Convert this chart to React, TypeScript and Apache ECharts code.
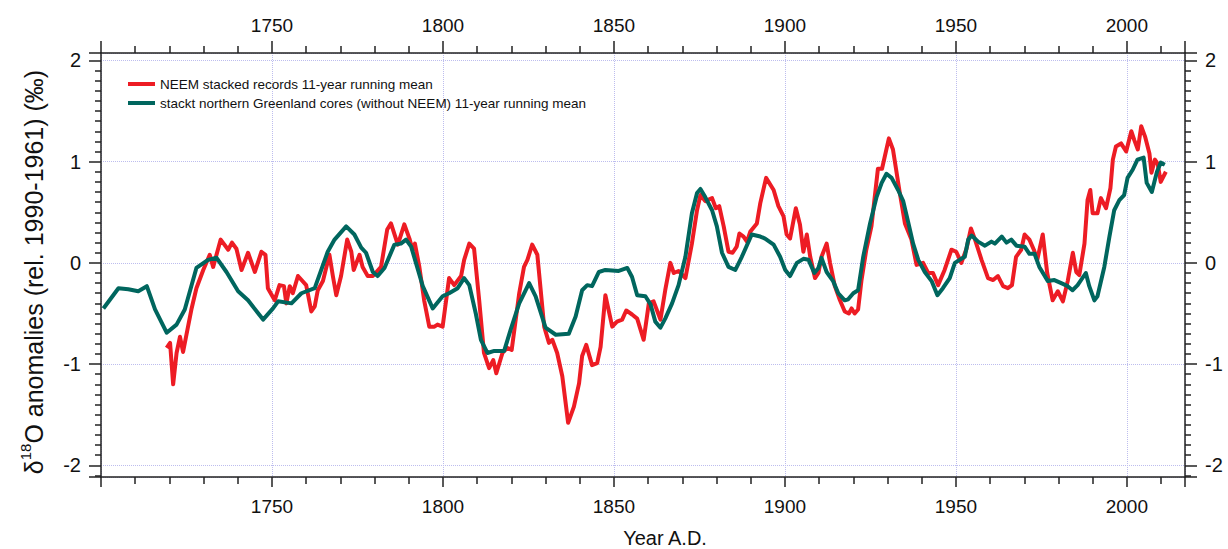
import React, { useEffect, useRef } from 'react';
import * as echarts from 'echarts';

const FONT = '"Liberation Sans", Arial, Helvetica, sans-serif';
const RED = '#ed1c24';
const TEAL = '#00665e';

// NEEM stacked records, 11-year running mean (‰)
const neemYears = [
  1719.2, 1720.2, 1721.1, 1722.1, 1723.1, 1724.0, 1726.5, 1727.9, 1729.9, 1731.8,
  1732.8, 1735.0, 1737.2, 1738.3, 1739.6, 1741.1, 1743.0, 1745.0, 1746.9, 1748.1,
  1748.8, 1750.8, 1752.2, 1753.5, 1754.2, 1755.2, 1756.1, 1757.6, 1760.0, 1761.5,
  1762.5, 1763.4, 1764.9, 1766.8, 1767.8, 1768.8, 1770.2, 1772.0, 1773.2, 1773.9,
  1775.6, 1776.5, 1778.0, 1779.5, 1781.9, 1783.7, 1784.8, 1786.8, 1788.7, 1790.2,
  1791.1, 1791.8, 1793.1, 1794.5, 1796.0, 1797.5, 1798.4, 1799.9, 1801.8, 1803.3,
  1805.3, 1806.2, 1807.7, 1809.1, 1810.6, 1812.0, 1813.5, 1814.7, 1815.6, 1817.4,
  1818.8, 1820.1, 1822.3, 1823.7, 1824.7, 1826.1, 1827.6, 1829.6, 1831.0, 1832.0,
  1833.4, 1834.9, 1836.6, 1838.3, 1839.8, 1840.7, 1841.9, 1843.6, 1845.1, 1846.1,
  1847.5, 1849.5, 1850.9, 1852.4, 1853.6, 1855.3, 1856.8, 1858.7, 1860.2, 1861.6,
  1863.6, 1865.0, 1866.5, 1867.5, 1868.9, 1870.9, 1872.8, 1874.3, 1875.3, 1876.7,
  1878.7, 1879.8, 1880.8, 1882.1, 1883.5, 1884.7, 1885.9, 1886.7, 1887.9, 1888.9,
  1889.9, 1891.8, 1892.8, 1894.5, 1896.7, 1898.1, 1899.6, 1900.5, 1901.5, 1903.2,
  1904.4, 1905.4, 1906.4, 1907.4, 1908.8, 1909.8, 1910.7, 1912.2, 1913.2, 1914.6,
  1916.1, 1917.5, 1918.7, 1919.5, 1920.4, 1921.4, 1922.4, 1923.8, 1925.3, 1927.2,
  1928.4, 1930.4, 1931.6, 1933.6, 1935.1, 1937.0, 1938.5, 1940.4, 1941.9, 1943.3,
  1944.8, 1946.7, 1948.7, 1950.1, 1951.6, 1953.1, 1954.4, 1955.5, 1957.5, 1959.4,
  1960.9, 1962.3, 1963.8, 1965.2, 1966.4, 1967.6, 1969.1, 1970.1, 1971.5, 1972.8,
  1973.8, 1975.4, 1976.7, 1978.3, 1979.8, 1981.3, 1982.7, 1984.2, 1985.2, 1986.1,
  1987.6, 1988.5, 1989.3, 1990.0, 1991.4, 1992.4, 1993.9, 1995.2, 1995.9, 1996.8,
  1998.3, 1999.8, 2001.3, 2002.2, 2003.2, 2004.2, 2005.3, 2006.6, 2007.2, 2008.2,
  2009.0, 2009.9, 2011.4,
];
const neemValues = [
  -0.84, -0.79, -1.2, -0.89, -0.73, -0.88, -0.45, -0.25, -0.07, 0.08,
  -0.04, 0.23, 0.13, 0.2, 0.14, -0.07, 0.1, -0.09, 0.11, 0.08,
  -0.25, -0.37, -0.22, -0.23, -0.4, -0.23, -0.3, -0.13, -0.22, -0.48,
  -0.43, -0.27, -0.18, 0.08, -0.13, -0.32, -0.13, 0.23, 0.11, -0.07,
  0.08, -0.04, -0.13, -0.13, -0.04, 0.33, 0.39, 0.18, 0.38, 0.24,
  0.13, 0.19, -0.04, -0.37, -0.63, -0.63, -0.61, -0.63, -0.15, -0.22,
  -0.13, 0.03, 0.19, 0.14, -0.37, -0.89, -1.04, -0.96, -1.09, -0.89,
  -0.84, -0.86, -0.3, -0.04, 0.03, 0.18, 0.08, -0.63, -0.79, -0.76,
  -0.89, -1.12, -1.58, -1.42, -1.19, -0.92, -0.81, -1.01, -0.99, -0.83,
  -0.32, -0.63, -0.58, -0.56, -0.47, -0.51, -0.55, -0.76, -0.4, -0.38,
  -0.56, -0.27, 0.0, -0.1, -0.08, -0.15, 0.19, 0.52, 0.67, 0.61,
  0.64, 0.54, 0.56, 0.36, 0.11, 0.1, 0.16, 0.29, 0.26, 0.21,
  0.31, 0.39, 0.59, 0.84, 0.72, 0.56, 0.46, 0.28, 0.24, 0.54,
  0.38, 0.11, 0.28, 0.06, -0.15, -0.1, 0.06, 0.19, 0.0, -0.23,
  -0.37, -0.48, -0.5, -0.45, -0.5, -0.46, -0.17, 0.13, 0.36, 0.93,
  0.93, 1.23, 1.12, 0.69, 0.39, 0.23, -0.02, 0.0, -0.1, -0.1,
  -0.22, -0.07, 0.13, 0.11, 0.0, 0.14, 0.34, 0.24, 0.03, -0.15,
  -0.17, -0.13, -0.23, -0.25, -0.22, 0.06, 0.13, 0.28, 0.23, 0.13,
  0.03, 0.28, -0.1, -0.37, -0.28, -0.38, -0.18, 0.1, -0.09, -0.12,
  0.19, 0.62, 0.72, 0.49, 0.49, 0.64, 0.54, 0.74, 1.02, 1.15,
  1.18, 1.1, 1.3, 1.21, 1.12, 1.35, 1.25, 1.08, 0.89, 1.02,
  0.98, 0.8, 0.9,
];

// Stacked northern Greenland cores (without NEEM), 11-year running mean (‰)
const greenlandYears = [
  1700.7, 1705.1, 1708.0, 1710.9, 1713.4, 1715.8, 1719.2, 1722.1, 1724.5, 1727.9,
  1731.3, 1733.8, 1736.7, 1740.1, 1743.0, 1747.4, 1750.3, 1751.8, 1755.7, 1758.6,
  1762.5, 1766.3, 1768.3, 1771.7, 1774.1, 1776.1, 1777.5, 1779.5, 1780.9, 1782.9,
  1785.8, 1787.7, 1789.2, 1790.7, 1794.1, 1797.0, 1799.9, 1801.8, 1804.3, 1806.2,
  1807.7, 1809.6, 1811.1, 1813.0, 1815.0, 1817.9, 1819.8, 1822.3, 1825.2, 1827.1,
  1830.0, 1833.0, 1836.8, 1838.8, 1840.7, 1842.2, 1843.6, 1845.6, 1847.5, 1851.4,
  1853.9, 1855.3, 1856.8, 1859.2, 1860.7, 1862.1, 1863.6, 1865.0, 1867.0, 1868.9,
  1870.9, 1872.8, 1874.3, 1875.3, 1876.7, 1878.7, 1880.1, 1881.6, 1883.5, 1885.5,
  1887.4, 1890.3, 1892.8, 1894.2, 1896.7, 1898.6, 1900.1, 1901.5, 1903.5, 1905.4,
  1906.9, 1908.6, 1909.8, 1910.7, 1912.2, 1914.1, 1915.6, 1917.5, 1918.5, 1920.0,
  1921.4, 1922.9, 1924.9, 1926.8, 1928.3, 1929.7, 1931.2, 1933.1, 1934.6, 1936.0,
  1937.5, 1939.0, 1940.9, 1942.9, 1944.6, 1946.2, 1948.2, 1949.7, 1951.1, 1952.6,
  1953.6, 1954.6, 1956.5, 1958.5, 1960.4, 1961.4, 1963.4, 1964.8, 1966.2, 1967.7,
  1970.1, 1971.5, 1973.0, 1974.4, 1976.9, 1978.8, 1980.8, 1982.7, 1984.1, 1985.6,
  1988.0, 1989.0, 1990.5, 1991.4, 1993.4, 1994.9, 1996.3, 1997.8, 1999.2, 2000.2,
  2001.7, 2003.1, 2004.9, 2005.8, 2007.3, 2008.8, 2009.9, 2011.1,
];
const greenlandValues = [
  -0.45, -0.25, -0.26, -0.28, -0.23, -0.46, -0.69, -0.61, -0.46, -0.05,
  0.03, 0.05, -0.09, -0.28, -0.37, -0.56, -0.45, -0.38, -0.4, -0.3,
  -0.25, 0.11, 0.23, 0.36, 0.28, 0.15, 0.1, -0.09, -0.13, -0.05,
  0.18, 0.19, 0.23, 0.16, -0.23, -0.45, -0.33, -0.3, -0.25, -0.15,
  -0.22, -0.5, -0.76, -0.89, -0.87, -0.87, -0.66, -0.4, -0.2, -0.33,
  -0.64, -0.71, -0.7, -0.53, -0.27, -0.22, -0.23, -0.09, -0.07, -0.08,
  -0.05, -0.14, -0.32, -0.33, -0.41, -0.58, -0.64, -0.55, -0.4, -0.22,
  0.06, 0.49, 0.69, 0.73, 0.65, 0.52, 0.36, 0.1, -0.04, -0.07,
  0.06, 0.28, 0.26, 0.24, 0.18, 0.06, -0.07, -0.13, 0.0, 0.04,
  0.03, -0.1, -0.05, 0.05, -0.09, -0.18, -0.3, -0.37, -0.36, -0.3,
  -0.27, 0.06, 0.39, 0.65, 0.79, 0.88, 0.84, 0.72, 0.61, 0.41,
  0.19, 0.03, -0.09, -0.18, -0.32, -0.25, -0.15, 0.0, 0.03, 0.06,
  0.23, 0.27, 0.21, 0.17, 0.21, 0.19, 0.26, 0.2, 0.23, 0.17,
  0.16, 0.09, 0.09, -0.04, -0.18, -0.17, -0.2, -0.23, -0.27, -0.22,
  -0.1, -0.23, -0.37, -0.33, -0.04, 0.26, 0.52, 0.62, 0.67, 0.84,
  0.92, 1.02, 1.04, 0.79, 0.7, 0.9, 0.99, 0.97,
];

const seriesNames = [
  'NEEM stacked records 11-year running mean',
  'stackt northern Greenland cores (without NEEM) 11-year running mean',
];

const xMin = 1700;
const xMax = 2017;
const yMin = -2.115;
const yMax = 2.073;

const zip = (xs: number[], ys: number[]) => xs.map((x, i) => [x, ys[i]]);

const axisColor = '#222';
const gridLine = { show: true, lineStyle: { color: '#bdbdee', type: 'dotted' as const, width: 1 } };

function xAxisDef(position: 'top' | 'bottom') {
  return {
    type: 'value' as const,
    position,
    min: xMin,
    max: xMax,
    interval: 50,
    axisLine: { show: true, onZero: false, lineStyle: { color: axisColor, width: 1.5 } },
    axisTick: { show: true, length: position === 'top' ? 12 : 10, lineStyle: { color: axisColor, width: 1.5 } },
    minorTick: { show: true, splitNumber: 5, length: 7, lineStyle: { color: axisColor, width: 1.5 } },
    axisLabel: {
      showMinLabel: false,
      showMaxLabel: false,
      fontSize: 19,
      fontFamily: FONT,
      color: '#111',
      margin: position === 'top' ? 18 : 20,
      formatter: (v: number) => String(Math.round(v)),
    },
    splitLine: position === 'bottom' ? gridLine : { show: false },
  };
}

function yAxisDef(position: 'left' | 'right') {
  return {
    type: 'value' as const,
    position,
    min: yMin,
    max: yMax,
    splitNumber: 5,
    axisLine: { show: true, onZero: false, lineStyle: { color: axisColor, width: 1.5 } },
    axisTick: { show: true, length: 12, lineStyle: { color: axisColor, width: 1.5 } },
    minorTick: { show: true, splitNumber: 10, length: 6, lineStyle: { color: axisColor, width: 1.5 } },
    axisLabel: {
      showMinLabel: false,
      showMaxLabel: false,
      fontSize: 20,
      fontFamily: FONT,
      color: '#111',
      margin: 20,
      formatter: (v: number) => String(Math.round(v)),
    },
    splitLine: position === 'left' ? gridLine : { show: false },
    ...(position === 'left'
      ? {
          name: '{t|δ}{sup|18}{e|O anomalies (rel. 1990-1961) (‰)}',
          nameLocation: 'middle' as const,
          nameGap: 52,
          nameTextStyle: {
            color: '#111',
            fontFamily: FONT,
            fontSize: 25,
            rich: {
              t: { fontSize: 25, fontFamily: FONT, color: '#111' },
              sup: { fontSize: 15, fontFamily: FONT, color: '#111', padding: [0, 0, 16, 0] },
              e: { fontSize: 25, fontFamily: FONT, color: '#111', padding: [0, 14, 0, 0] },
            },
          },
        }
      : {}),
  };
}

export default function App() {
  const ref = useRef<HTMLDivElement>(null);

  useEffect(() => {
    if (!ref.current) return;
    const chart = echarts.init(ref.current, null, { renderer: 'svg' });
    chart.setOption({
      animation: false,
      backgroundColor: '#ffffff',
      grid: { left: 101, right: 43, top: 53, bottom: 72, containLabel: false, outerBoundsMode: 'none' },
      legend: {
        orient: 'vertical',
        left: 128,
        top: 77,
        padding: 0,
        icon: 'rect',
        itemWidth: 27,
        itemHeight: 4,
        itemGap: 5,
        data: seriesNames,
        textStyle: { fontSize: 13.5, fontFamily: FONT, color: '#111' },
      },
      xAxis: [xAxisDef('bottom'), xAxisDef('top')],
      yAxis: [yAxisDef('left'), yAxisDef('right')],
      graphic: [
        {
          type: 'text',
          x: 665,
          y: 538,
          style: {
            text: 'Year A.D.',
            fontSize: 20,
            fontFamily: FONT,
            fill: '#111',
            align: 'center',
            verticalAlign: 'middle',
          },
        },
      ],
      series: [
        {
          name: seriesNames[0],
          type: 'line',
          xAxisIndex: 0,
          yAxisIndex: 0,
          data: zip(neemYears, neemValues),
          showSymbol: false,
          symbol: 'none',
          smooth: false,
          lineStyle: { color: RED, width: 4, join: 'round' },
          itemStyle: { color: RED },
        },
        {
          name: seriesNames[1],
          type: 'line',
          xAxisIndex: 0,
          yAxisIndex: 0,
          data: zip(greenlandYears, greenlandValues),
          showSymbol: false,
          symbol: 'none',
          smooth: false,
          lineStyle: { color: TEAL, width: 4, join: 'round' },
          itemStyle: { color: TEAL },
        },
      ],
    });
    return () => chart.dispose();
  }, []);

  return (
    <div
      ref={ref}
      style={{ position: 'fixed', left: 0, top: 0, width: 1228, height: 549, background: '#fff' }}
    />
  );
}
